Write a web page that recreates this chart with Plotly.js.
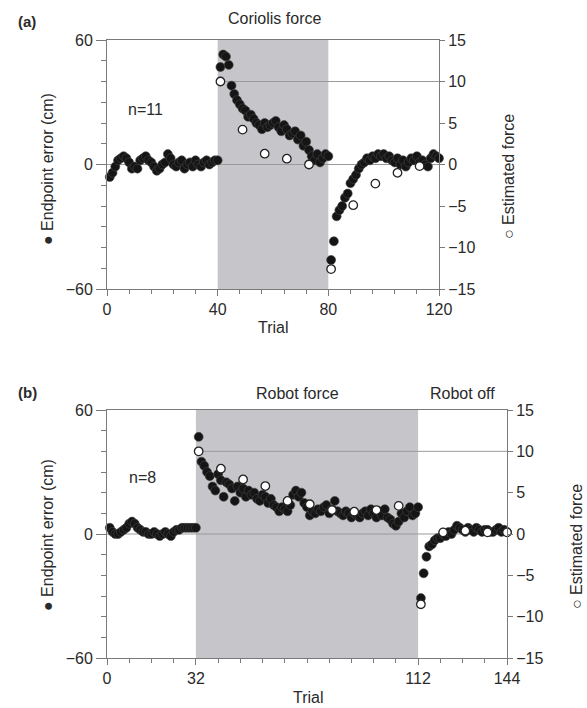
<!DOCTYPE html>
<html>
<head>
<meta charset="utf-8">
<script src="https://cdn.plot.ly/plotly-3.0.1.min.js"></script>
<style>html,body{margin:0;padding:0;background:#fff;}#chart{width:587px;height:708px;}</style>
</head>
<body>
<div id="chart"></div>
<script>
// ---------- Panel (a): Coriolis force ----------
const errA_baseline = [-6,-4,-1,2,3,4,3,1,-2,-1,-2,2,3,4,2,1,-1,-3,-2,0,1,5,3,0,-1,1,2,-2,0,1,-1,2,0,-1,1,2,0,1,2,2];
const errA_force = [47,53,52,48,38,34,31,29,27,26,23,24,22,20,19,17,20,18,19,20,21,18,16,19,17,14,15,16,12,14,9,11,7,4,2,5,1,3,5,4];
const errA_post = [-46,-37,-25,-22,-20,-16,-14,-9,-7,-5,-2,0,1,3,2,4,3,5,4,5,3,4,2,1,3,0,2,-1,1,3,2,4,1,2,0,-1,3,5,4,3];
const forceA_trials = [41,49,57,65,73,81,89,97,105,113];
const forceA_values = [10,4.2,1.3,0.7,0,-12.6,-4.9,-2.3,-1.0,-0.2];

// ---------- Panel (b): Robot force / Robot off ----------
const errB_baseline = [3,1,0,0,1,2,3,5,6,5,3,2,1,1,0,0,1,0,-1,0,1,0,-1,1,2,2,3,3,3,3,3,3];
const errB_force = [47,35,33,30,28,23,21,29,26,18,25,24,22,16,23,20,22,18,21,19,20,17,16,19,18,15,17,14,13,11,13,12,11,14,19,21,18,20,15,13,9,11,10,12,11,13,14,10,12,16,11,10,9,11,10,8,10,9,8,10,11,9,12,10,8,11,9,12,8,7,5,4,6,10,8,11,13,9,10,13];
const errB_post = [-31,-19,-11,-6,-5,-3,-2,-2,0,-1,1,0,2,4,3,2,1,3,2,1,3,2,1,2,2,1,1,2,3,1,2,1];
const forceB_trials = [33,41,49,57,65,73,81,89,97,105,113,121,129,137,144];
const forceB_values = [10,7.9,6.6,5.8,4.0,3.6,2.9,2.7,2.9,3.4,-8.5,0.2,0.4,0.2,0.2];

// tick labels
const xTicksA = [0,40,80,120];
const xTicksB = [0,32,112,144];
const yLeftTicks = [-60,0,60];
const yRightTicks = [-15,-10,-5,0,5,10,15];

const errA = errA_baseline.concat(errA_force, errA_post);
const errB = errB_baseline.concat(errB_force, errB_post);
const trialsA = errA.map((_, i) => i + 1);
const trialsB = errB.map((_, i) => i + 1);

const W = 587, H = 708;
const px = v => v / W;
const py = v => 1 - v / H;

const FONT = 'Liberation Sans, Arial, Helvetica, sans-serif';
const TXT = '#2a2a2a';
const AX = '#7a7a7a';

const filled = {color: '#151515', size: 9, line: {color: '#444', width: 0.6}};
const open = {color: '#ffffff', size: 8.5, line: {color: '#222', width: 1.3}};

const traces = [
  {x: trialsA, y: errA, xaxis: 'x', yaxis: 'y', mode: 'markers', type: 'scatter', marker: filled, cliponaxis: false, showlegend: false},
  {x: forceA_trials, y: forceA_values, xaxis: 'x', yaxis: 'y2', mode: 'markers', type: 'scatter', marker: open, cliponaxis: false, showlegend: false},
  {x: trialsB, y: errB, xaxis: 'x2', yaxis: 'y3', mode: 'markers', type: 'scatter', marker: filled, cliponaxis: false, showlegend: false},
  {x: forceB_trials, y: forceB_values, xaxis: 'x2', yaxis: 'y4', mode: 'markers', type: 'scatter', marker: open, cliponaxis: false, showlegend: false}
];

function xAxis(domain, range, ticks, anchor) {
  return {
    domain: domain, range: range, anchor: anchor,
    tickmode: 'array', tickvals: ticks, ticks: 'outside', ticklen: 6, tickcolor: AX, tickwidth: 1,
    minor: {dtick: 8, tick0: 0, ticks: 'outside', ticklen: 4, tickcolor: AX, tickwidth: 1},
    showline: true, linecolor: AX, linewidth: 1, mirror: true,
    showgrid: false, zeroline: false,
    tickfont: {family: FONT, size: 16, color: TXT}
  };
}
function yLeft(domain, anchor) {
  return {
    domain: domain, range: [-60, 60], anchor: anchor,
    tickmode: 'array', tickvals: yLeftTicks, ticks: 'outside', ticklen: 10, tickcolor: AX, tickwidth: 1,
    minor: {dtick: 10, tick0: 0, ticks: 'outside', ticklen: 5, tickcolor: AX, tickwidth: 1},
    showline: true, linecolor: AX, linewidth: 1,
    showgrid: false, zeroline: false,
    tickfont: {family: FONT, size: 16, color: TXT}
  };
}
function yRight(overlay, anchor) {
  return {
    overlaying: overlay, side: 'right', range: [-15, 15], anchor: anchor,
    tickmode: 'array', tickvals: yRightTicks, ticks: 'outside', ticklen: 5, tickcolor: AX, tickwidth: 1,
    showline: true, linecolor: AX, linewidth: 1,
    showgrid: false, zeroline: false,
    tickfont: {family: FONT, size: 16, color: TXT}
  };
}

const domXA = [px(107), px(439)];
const domXB = [px(107), px(507)];
const domYA = [py(289), py(40)];
const domYB = [py(658), py(410)];

const SHADE = '#c6c6ca';
const LINE = '#9a9a9a';

const shapes = [
  {type: 'rect', xref: 'x', yref: 'y domain', x0: 40, x1: 80, y0: 0, y1: 1, fillcolor: SHADE, line: {width: 0}, layer: 'below'},
  {type: 'line', xref: 'x', yref: 'y2', x0: 40, x1: 120, y0: 10, y1: 10, line: {color: LINE, width: 1}, layer: 'below'},
  {type: 'line', xref: 'x', yref: 'y2', x0: 0, x1: 120, y0: 0, y1: 0, line: {color: LINE, width: 1}, layer: 'below'},
  {type: 'rect', xref: 'x2', yref: 'y3 domain', x0: 32, x1: 112, y0: 0, y1: 1, fillcolor: SHADE, line: {width: 0}, layer: 'below'},
  {type: 'line', xref: 'x2', yref: 'y4', x0: 32, x1: 144, y0: 10, y1: 10, line: {color: LINE, width: 1}, layer: 'below'},
  {type: 'line', xref: 'x2', yref: 'y4', x0: 0, x1: 144, y0: 0, y1: 0, line: {color: LINE, width: 1}, layer: 'below'}
];

function ann(text, x, y, opts) {
  return Object.assign({
    text: text, xref: 'paper', yref: 'paper', x: px(x), y: py(y),
    xanchor: 'center', yanchor: 'middle', showarrow: false,
    font: {family: FONT, size: 16, color: TXT}
  }, opts || {});
}

const annotations = [
  ann('<b>(a)</b>', 27, 22, {font: {family: FONT, size: 15, color: TXT}}),
  ann('Coriolis force', 274, 18),
  ann('n=11', 145, 109),
  ann('Trial', 273, 328),
  ann('\u25CF Endpoint error (cm)', 47, 169, {textangle: -90}),
  ann('\u25CB Estimated force', 508, 177, {textangle: -90}),
  ann('<b>(b)</b>', 27, 392, {font: {family: FONT, size: 15, color: TXT}}),
  ann('Robot force', 298, 393),
  ann('Robot off', 463, 393),
  ann('n=8', 142, 477),
  ann('Trial', 308, 697),
  ann('\u25CF Endpoint error (cm)', 47, 535, {textangle: -90}),
  ann('\u25CB Estimated force', 576, 547, {textangle: -90})
];

const layout = {
  width: W, height: H,
  margin: {l: 0, r: 0, t: 0, b: 0},
  paper_bgcolor: '#ffffff', plot_bgcolor: 'rgba(0,0,0,0)',
  font: {family: FONT, size: 16, color: TXT},
  showlegend: false,
  xaxis: xAxis(domXA, [0, 120], xTicksA, 'y'),
  yaxis: yLeft(domYA, 'x'),
  yaxis2: yRight('y', 'x'),
  xaxis2: xAxis(domXB, [0, 144], xTicksB, 'y3'),
  yaxis3: yLeft(domYB, 'x2'),
  yaxis4: yRight('y3', 'x2'),
  shapes: shapes,
  annotations: annotations
};

Plotly.newPlot('chart', traces, layout, {displayModeBar: false, staticPlot: true});
</script>
</body>
</html>
